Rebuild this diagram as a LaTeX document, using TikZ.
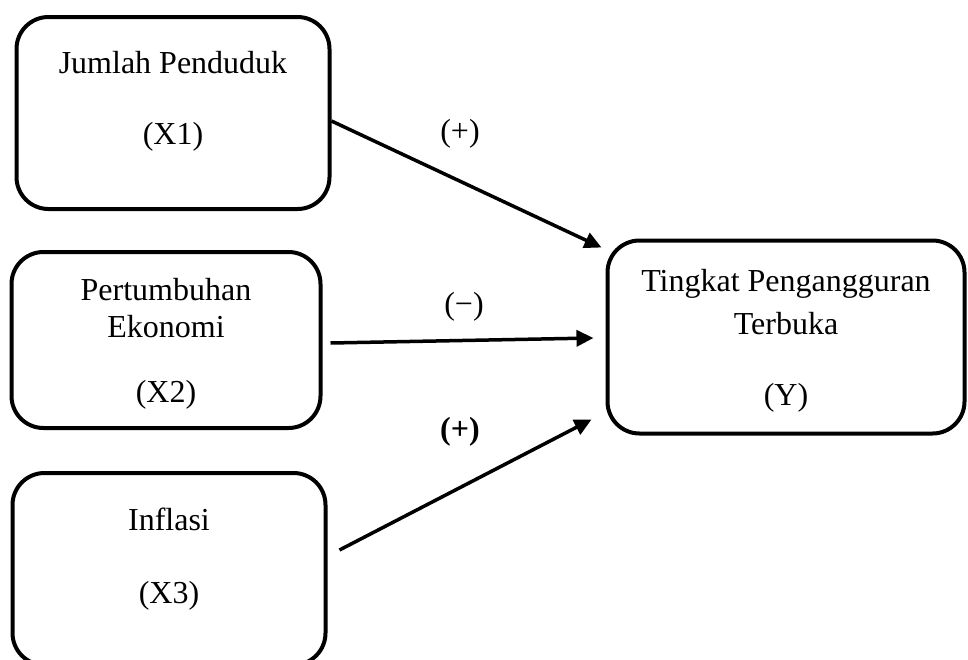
\documentclass[tikz,border=0pt]{standalone}
\usepackage{fontspec}
\setmainfont{Liberation Serif}
\usetikzlibrary{calc}
\usetikzlibrary{arrows.meta}
\newcommand{\boxfont}{\fontsize{32}{37}\selectfont}
\tikzset{
	varbox/.style={draw, line width=4pt, rounded corners=32pt, align=center, inner sep=0pt, font=\boxfont},
	effect/.style={line width=3.5pt, -{Triangle[length=17pt, width=16pt]}},
	sign/.style={font=\boxfont, inner sep=0pt},
}

\begin{document}
\begin{tikzpicture}[x=1pt, y=-1pt]
	\clip (0,0) rectangle (968,659);
	% variables
	\node[varbox, minimum width=313pt, minimum height=192pt, text depth=30pt] (x1) at (173,113) {Jumlah Penduduk\\[34pt](X1)};
	\node[varbox, minimum width=309pt, minimum height=176pt, text depth=-5pt] (x2) at (166,340) {Pertumbuhan\\Ekonomi\\[28pt](X2)};
	\node[varbox, minimum width=313pt, minimum height=192pt, text depth=27pt] (x3) at (169,569) {Inflasi\\[36pt](X3)};
	\node[varbox, minimum width=357pt, minimum height=193pt, text depth=-3pt] (y) at (786,337) {Tingkat Pengangguran\\[6pt]Terbuka\\[34pt](Y)};
	% effects
	\draw[effect] ($(x1.east)+(0,8)$) -- ($(y.north west)+(-4,9)$);
	\draw[effect] ($(x2.east)+(8,3)$) -- ($(y.west)+(-12,1)$);
	\draw[effect] ($(x3.east)+(12,-19)$) -- ($(y.south west)+(-14,-16)$);
	\node[sign] (s1) at (460,134) {(+)};
	\node[sign] (s2) at (464,307) {(\char"2212)};
	\node[sign, font=\boxfont\bfseries] (s3) at (460,432) {(+)};
\end{tikzpicture}
\end{document}
